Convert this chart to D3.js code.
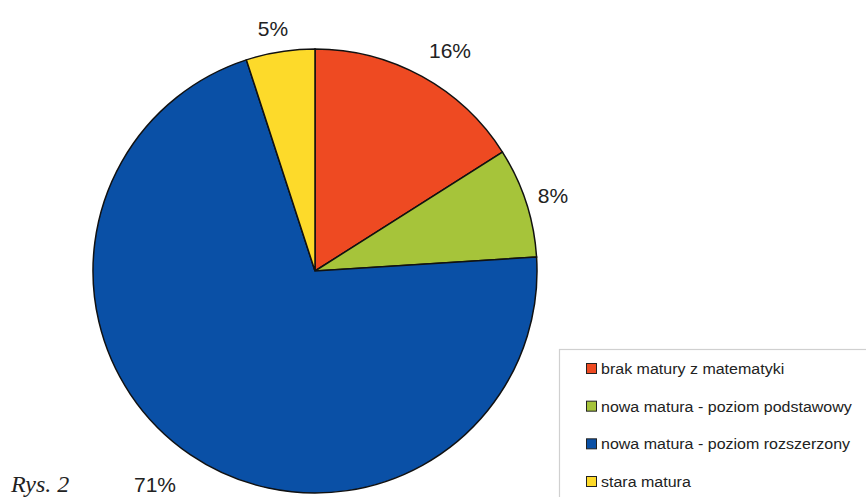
<!DOCTYPE html>
<html><head><meta charset="utf-8">
<script src="https://cdn.jsdelivr.net/npm/d3@7"></script>
<style>body{margin:0;background:#fff;} svg{display:block;}</style>
</head><body>
<svg id="c" width="866" height="497"></svg>
<script>
const categories = ["brak matury z matematyki","nowa matura - poziom podstawowy","nowa matura - poziom rozszerzony","stara matura"];
const values = [16, 8, 71, 5];
const labels = ["16%","8%","71%","5%"];
const colors = ["#EE4A22","#A6C43A","#0A50A6","#FDDA2A"];

const svg = d3.select("#c");
const cx = 315, cy = 271, r = 222;
const pie = d3.pie().sort(null).value(d => d)(values);
const arc = d3.arc().innerRadius(0).outerRadius(r);
const g = svg.append("g").attr("transform", `translate(${cx},${cy})`);
g.selectAll("path").data(pie).join("path")
  .attr("d", arc).attr("fill", (d,i) => colors[i])
  .attr("stroke", "#111").attr("stroke-width", 1.5);

const lblPos = [[450,58],[553,203],[155,492],[273,36]];
g.selectAll("text.lbl").data(pie).join("text")
  .attr("class","lbl")
  .attr("x", (d,i) => lblPos[i][0] - cx)
  .attr("y", (d,i) => lblPos[i][1] - cy)
  .attr("text-anchor","middle")
  .attr("font-family","Liberation Sans, Arial, sans-serif")
  .attr("font-size", 21)
  .attr("fill","#222")
  .text((d,i) => labels[i]);

// legend
const lg = svg.append("g");
lg.append("rect").attr("x", 559.5).attr("y", 349.5).attr("width", 320).attr("height", 160)
  .attr("fill","#fff").attr("stroke","#d0d0d0").attr("stroke-width",1.2);
const rowY = d3.scalePoint().domain(categories).range([369, 482]);
const texts = [];
categories.forEach((c,i) => {
  const y = rowY(c);
  lg.append("rect").attr("x", 586.5).attr("y", y - 5.5).attr("width", 10).attr("height", 10)
    .attr("fill", colors[i]).attr("stroke","#222").attr("stroke-width",1);
  const t = lg.append("g").attr("transform", `translate(601,${y + 5})`);
  texts.push(t.append("text")
    .attr("font-family","Liberation Sans, Arial, sans-serif").attr("font-size", 14.5)
    .attr("fill","#222").text(c));
});
const maxW = d3.max(texts, t => t.node().getComputedTextLength());
const sx = 251 / maxW;
texts.forEach(t => t.attr("transform", `scale(${sx},1)`));

svg.append("text").attr("x", 11).attr("y", 492)
  .attr("font-family","Liberation Serif, Times New Roman, serif").attr("font-style","italic")
  .attr("font-size", 24).attr("fill","#222").text("Rys. 2");
</script>
</body></html>
